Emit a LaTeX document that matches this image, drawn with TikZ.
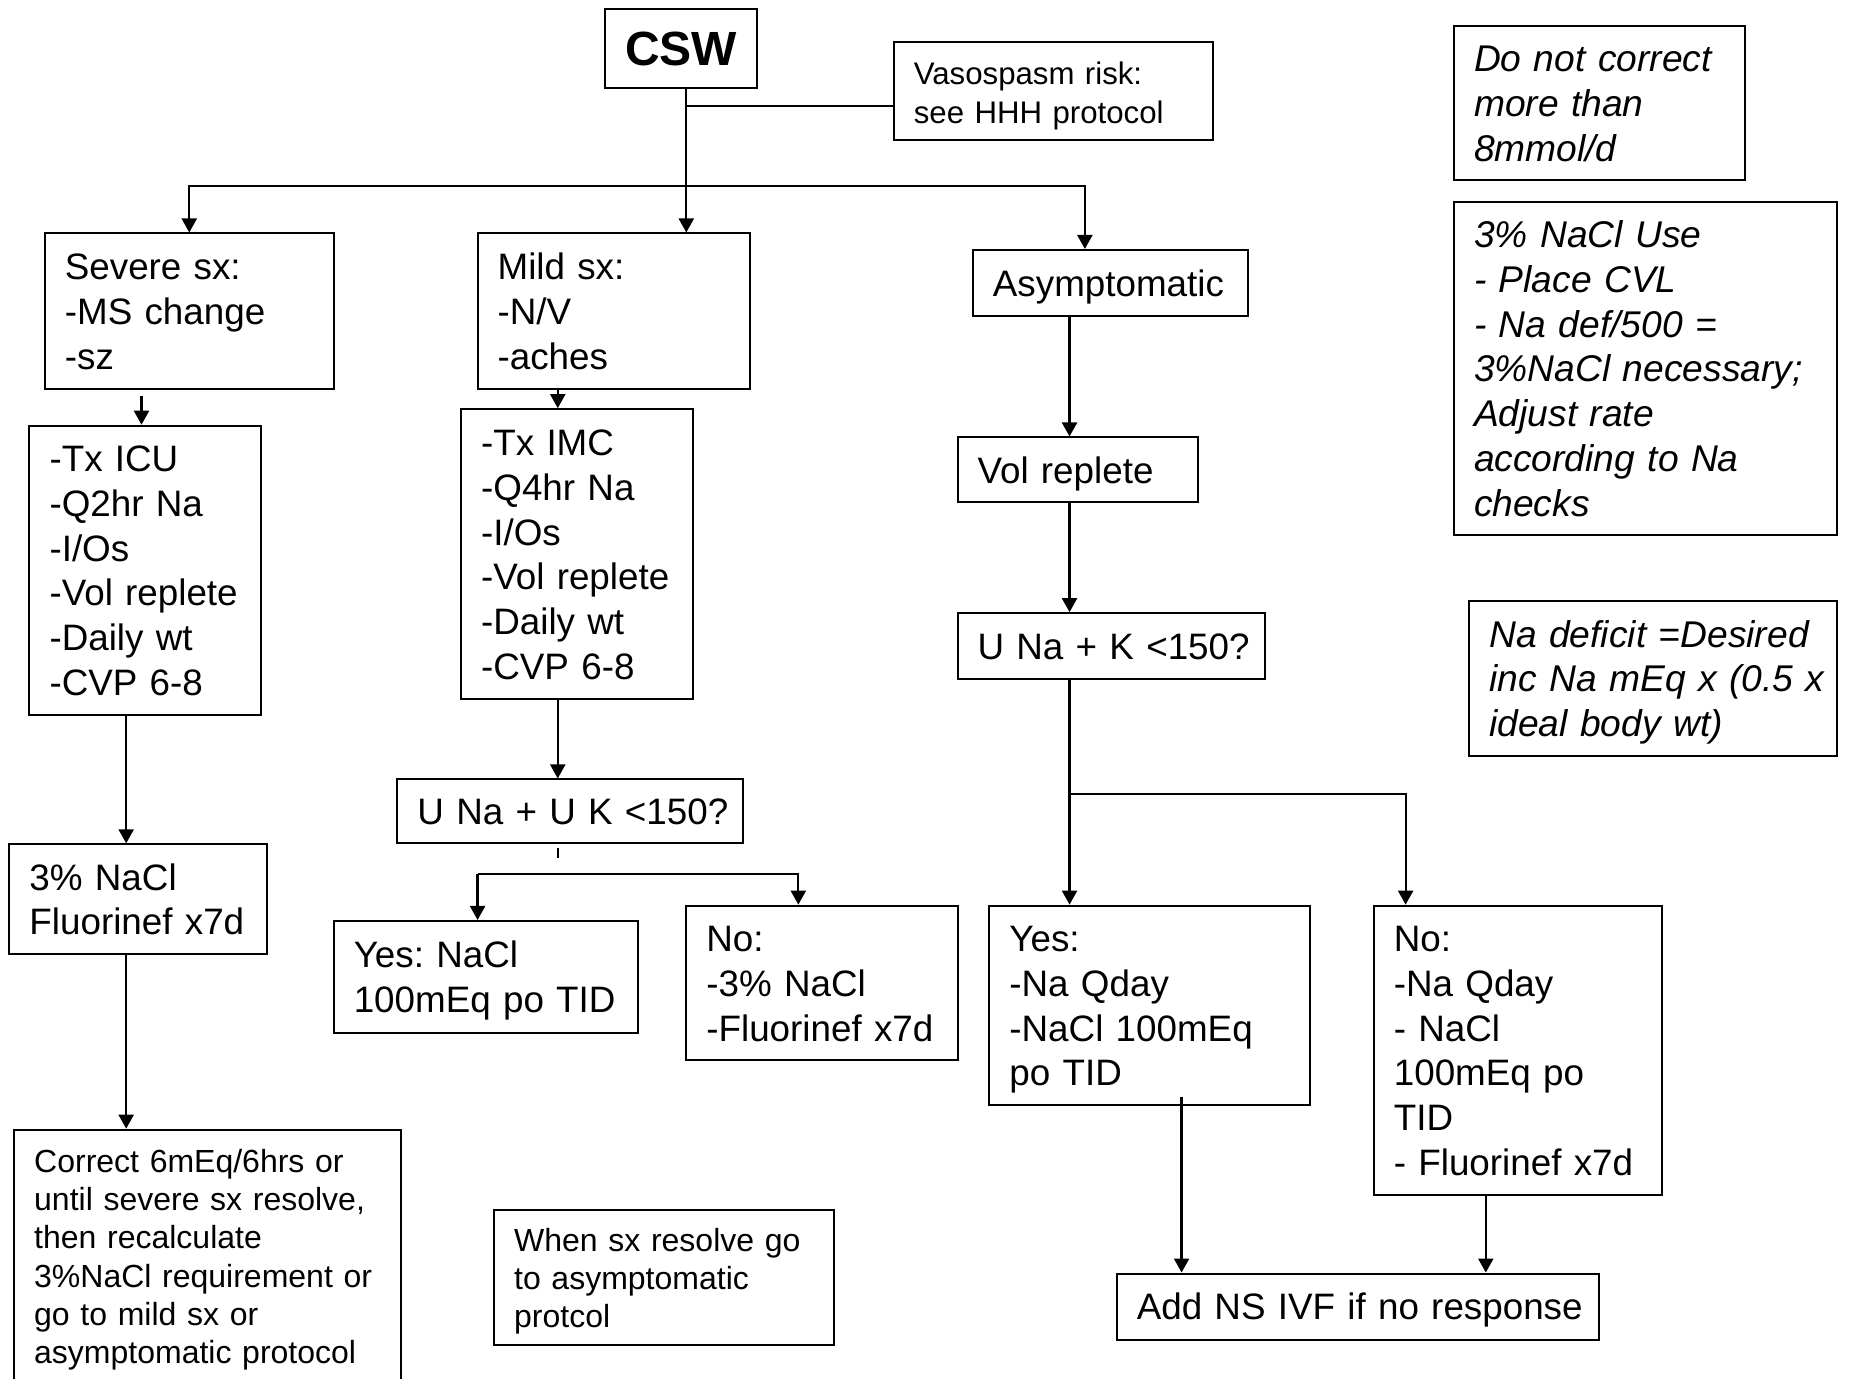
\documentclass[tikz,border=0pt]{standalone}
\usepackage{fontspec}
\setmainfont{Liberation Sans}
\usetikzlibrary{arrows.meta,calc}
\frenchspacing
\def\uu{0.5896}
\tikzset{
  box/.style={draw, line width=1pt, inner xsep=10.02pt, inner ysep=0pt, align=left,
    font=\fontsize{18.4}{22.4}\selectfont},
  sm/.style={font=\fontsize{16}{19.1}\selectfont},
  vs/.style={font=\fontsize{15.6}{19.5}\selectfont},
  it/.style={font=\fontsize{18.6}{22.4}\selectfont\itshape},
  ln/.style={line width=1.1pt},
  arr/.style={ln, -{Triangle[length=7pt,width=7.5pt]}},
}
\newcommand\boxat[7][]{%
  \pgfmathsetmacro\bxw{(#5-#3)*\uu}%
  \pgfmathsetmacro\bxh{(#6-#4)*\uu}%
  \pgfmathsetmacro\bxt{(#5-#3-34)*\uu}%
  \node[box,#1,minimum width=\bxw pt,minimum height=\bxh pt,text width=\bxt pt] (#2) at ({(#3+#5)/2},{(#4+#6)/2}) {\frenchspacing\raisebox{-2.2pt}[\height][\depth]{\begin{tabular}{@{}l@{}}#7\end{tabular}}};%
}
\begin{document}
\begin{tikzpicture}[x=\uu pt, y=-\uu pt]
\fill[white] (0,0) rectangle (1568,1169.4);
\useasboundingbox (0,0) rectangle (1568,1169.4);

\node[draw, line width=1pt, minimum width={129*\uu pt}, minimum height={67*\uu pt}, inner sep=0pt,
  font=\fontsize{24}{28}\selectfont\bfseries] (csw) at (577.5,41.5) {\raisebox{-0.6pt}{CSW}};
\boxat[vs]{vaso}{758}{36}{1029}{119}{Vasospasm risk:\\see HHH protocol}
\boxat{severe}{38}{198}{283}{330}{Severe sx:\\-MS change\\-sz}
\boxat{mild}{405}{198}{636}{330}{Mild sx:\\-N/V\\-aches}
\boxat{asym}{825}{212}{1058}{268}{Asymptomatic}
\boxat{icu}{25}{361}{221}{606}{-Tx ICU\\-Q2hr Na\\-I/Os\\-Vol replete\\-Daily wt\\-CVP 6-8}
\boxat{imc}{391}{347}{588}{593}{-Tx IMC\\-Q4hr Na\\-I/Os\\-Vol replete\\-Daily wt\\-CVP 6-8}
\boxat{volr}{812}{371}{1016}{426}{Vol replete}
\boxat{uk2}{812}{520}{1073}{576}{U Na + K <150?}
\boxat{ukq}{337}{661}{630}{715}{U Na + U K <150?}
\boxat{nacl}{8}{716}{226}{809}{3\% NaCl\\Fluorinef x7d}
\boxat{yesM}{283}{781}{541}{876}{Yes: NaCl\\100mEq po TID}
\boxat{noM}{582}{768}{812}{899}{No:\\-3\% NaCl\\-Fluorinef x7d}
\boxat{yesR}{839}{768}{1111}{937}{Yes:\\-Na Qday\\-NaCl 100mEq\\po TID}
\boxat{noR}{1165}{768}{1409}{1013}{No:\\-Na Qday\\- NaCl\\100mEq po\\TID\\- Fluorinef x7d}
\boxat{addns}{947}{1080}{1356}{1136}{Add NS IVF if no response}
\boxat[sm]{corr}{12}{958}{340}{1172}{Correct 6mEq/6hrs or\\until severe sx resolve,\\then recalculate\\3\%NaCl requirement or\\go to mild sx or\\asymptomatic protocol}
\boxat[sm]{when}{419}{1026}{707}{1141}{When sx resolve go\\to asymptomatic\\protcol}
\boxat[it]{donot}{1233}{22}{1480}{153}{Do not correct\\more than\\8mmol/d}
\boxat[it]{use}{1233}{171}{1558}{454}{3\% NaCl Use\\- Place CVL\\- Na def/500 =\\3\%NaCl necessary;\\Adjust rate\\according to Na\\checks}
\boxat[it]{def}{1246}{510}{1558}{641}{Na deficit =Desired\\inc Na mEq x (0.5 x\\ideal body wt)}

% top connectors
\coordinate (j0) at (582,158);
\coordinate (j1) at (582,90);
\coordinate (j2) at (920,158);
\draw[arr] (csw.south -| j0) -- (mild.north -| j0);
\draw[ln] (j1) -- (j1 -| vaso.west);
\draw[arr] (j0) -| (severe.north);
\draw[arr] (j0) -| (j2 |- asym.north);

% left column
\coordinate (c0) at (120,0);
\coordinate (c1) at (107,0);
\draw[arr] ($(severe.south -| c0)+(0,5)$) -- (icu.north -| c0);
\draw[arr] (icu.south -| c1) -- (nacl.north -| c1);
\draw[arr] (nacl.south -| c1) -- (corr.north -| c1);

% middle column
\coordinate (c2) at (473,0);
\draw[arr] (mild.south -| c2) -- (imc.north -| c2);
\draw[arr] (imc.south -| c2) -- (ukq.north -| c2);
\draw[ln] ($(ukq.south -| c2)+(0,3)$) -- ++(0,9);
\coordinate (b1) at (405,741);
\coordinate (b2) at (677,741);
\draw[arr] (b1) -- (b1 |- yesM.north);
\draw[arr] (b1) -- (b2) -- (b2 |- noM.north);

% right column
\coordinate (c3) at (907,0);
\draw[arr] (asym.south -| c3) -- (volr.north -| c3);
\draw[arr] (volr.south -| c3) -- (uk2.north -| c3);
\coordinate (b3) at (907,673);
\coordinate (b4) at (1192,673);
\draw[ln] (uk2.south -| c3) -- (b3);
\draw[arr] (b3) -- (b3 |- yesR.north);
\draw[arr] (b3) -- (b4) -- (b4 |- noR.north);
\coordinate (c5) at (1002,930);
\coordinate (c6) at (1260,0);
\draw[arr] (c5) -- (c5 |- addns.north);
\draw[arr] (noR.south -| c6) -- (addns.north -| c6);
\end{tikzpicture}
\end{document}
